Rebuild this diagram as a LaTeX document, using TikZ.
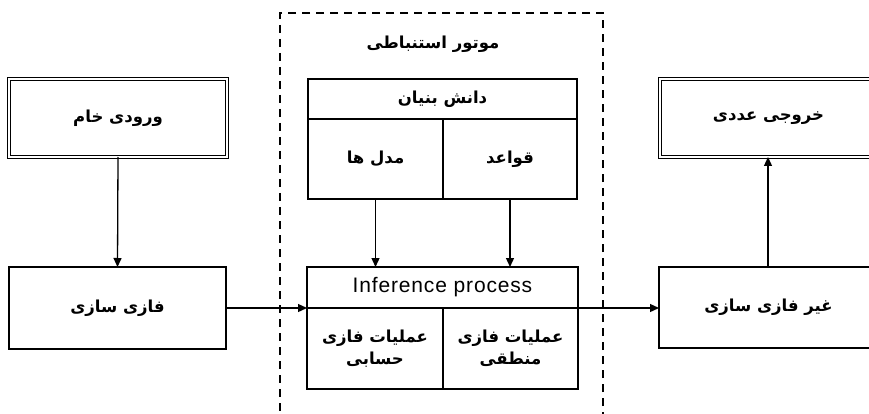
\documentclass[tikz,border=0pt]{standalone}
\usepackage{fontspec}
\setmainfont{Liberation Sans}
\newfontfamily\arfont[Script=Arabic]{DejaVu Sans}
\newfontfamily\latfont[LetterSpace=4]{Liberation Sans}
\TeXXeTstate=1
\usetikzlibrary{arrows.meta}
\begin{document}
\begin{tikzpicture}[x=1pt,y=-1pt,
  every node/.style={inner sep=0pt,outer sep=0pt},
  box/.style={draw,line width=1.3pt,rectangle,minimum width=#1},
  dbl/.style={draw,line width=0.9pt,double,double distance=1.8pt},
  artxt/.style={font=\arfont\bfseries\fontsize{16.5}{22}\selectfont,align=center},
  arr/.style={line width=1.3pt,-{Triangle[length=9pt,width=8pt]}}]
\useasboundingbox (0,0) rectangle (869,414);
\clip (0,0) rectangle (869,414);
% dashed engine frame
\node[draw,dash pattern=on 8pt off 6pt,line width=1.3pt,minimum width=323pt,minimum height=420pt] (engine) at (441.5,223) {};
\node[artxt] (title) at (433,44) {\beginR موتور استنباطی\endR};
% left
\node[dbl,minimum width=218pt,minimum height=78pt,artxt] (raw) at (118,118) {\beginR ورودی خام\endR};
\node[box=217pt,minimum height=82pt,artxt] (fuzz) at (117.5,308) {\beginR فازی سازی\endR};
% knowledge base
\node[box=269pt,minimum height=40pt,artxt] (kb) at (442.5,99) {\beginR دانش بنیان\endR};
\node[box=135pt,minimum height=80pt,artxt] (models) at (375.5,159) {\beginR مدل ها\endR};
\node[box=134pt,minimum height=80pt,artxt] (rules) at (510,159) {\beginR قواعد\endR};
% inference
\node[box=271pt,minimum height=41pt,font=\latfont\fontsize{21}{24}\selectfont] (inf) at (442.5,287.5) {Inference process};
\node[box=136pt,minimum height=81pt,artxt] (arith) at (375,348.5) {\beginR عملیات فازی\endR\\\beginR حسابی\endR};
\node[box=135pt,minimum height=81pt,artxt] (logic) at (510.5,348.5) {\beginR عملیات فازی\endR\\\beginR منطقی\endR};
% right
\node[box=241pt,minimum height=81pt,artxt] (defuzz) at (779.5,307.5) {\hspace*{-22pt}\beginR غیر فازی سازی\endR};
\node[dbl,minimum width=239pt,minimum height=78pt,artxt] (out) at (779.5,118) {\hspace*{-22pt}\beginR خروجی عددی\endR};
\coordinate (ox) at (768,0);
% connectors
\draw[arr] (raw.south) -- (fuzz.north);
\draw[arr] (models.south) -- (models.south |- inf.north);
\draw[arr] (rules.south) -- (rules.south |- inf.north);
\draw[arr] (fuzz.east) -- (fuzz.east -| inf.west);
\draw[arr] (inf.south east) -- (inf.south east -| defuzz.west);
\draw[arr] (ox |- defuzz.north) -- (ox |- out.south);
\end{tikzpicture}
\end{document}
